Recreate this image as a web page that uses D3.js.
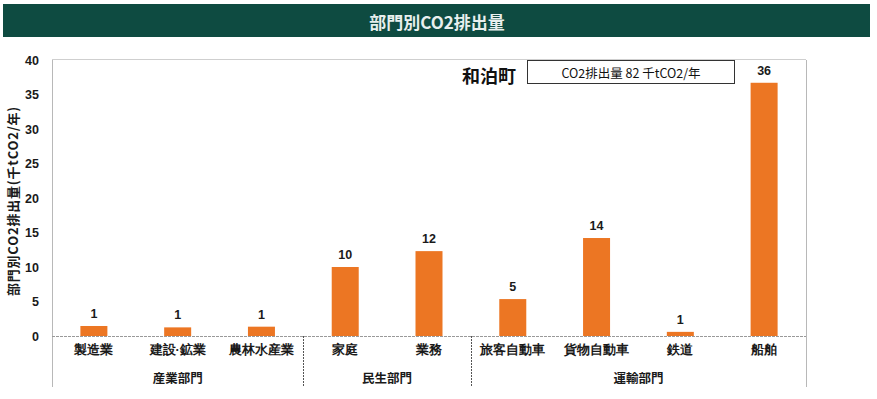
<!DOCTYPE html>
<html><head><meta charset="utf-8">
<script src="https://cdn.jsdelivr.net/npm/d3@7"></script>
<style>
body{margin:0;background:#fff;}
svg{display:block;font-family:"Noto Sans CJK JP","Noto Sans",sans-serif;}
</style></head>
<body>
<script>
const categories = ["製造業","建設·鉱業","農林水産業","家庭","業務","旅客自動車","貨物自動車","鉄道","船舶"];
const groups = ["産業部門","産業部門","産業部門","民生部門","民生部門","運輸部門","運輸部門","運輸部門","運輸部門"];
const values = [1.45, 1.25, 1.35, 10.0, 12.3, 5.35, 14.2, 0.6, 36.7];
const valueLabels = ["1","1","1","10","12","5","14","1","36"];
const yTicks = [0,5,10,15,20,25,30,35,40];
const titleText = "部門別CO2排出量";
const yTitle = "部門別CO2排出量(千tCO2/年)";
const townName = "和泊町";
const totalText = "CO2排出量 82 千tCO2/年";

(function(){
const W = 877, H = 399;
const svg = d3.select("body").append("svg").attr("width", W).attr("height", H);

// title bar
svg.append("rect").attr("x",3).attr("y",4).attr("width",867).attr("height",33).attr("fill","#0e4b41");
svg.append("text").attr("x",437).attr("y",21).attr("text-anchor","middle").attr("dominant-baseline","central")
  .attr("fill","#e8f0ee").attr("font-size",17).attr("font-weight","bold").text(titleText);

const pL = 52, pR = 806, pT = 60, pB = 336, axisBottom = 387;
const x = d3.scaleBand().domain(categories).range([pL, pR]).paddingInner(0).paddingOuter(0);
const y = d3.scaleLinear().domain([0, 40]).range([pB, pT]);
const barW = 27;

// frame
const frame = svg.append("g").attr("stroke","#b8b8b8").attr("stroke-width",1).attr("fill","none");
frame.append("line").attr("x1",pL+0.5).attr("x2",pL+0.5).attr("y1",pT).attr("y2",axisBottom);
frame.append("line").attr("x1",pR+0.5).attr("x2",pR+0.5).attr("y1",pT).attr("y2",axisBottom);
frame.append("line").attr("x1",pL).attr("x2",pR).attr("y1",pT-0.5).attr("y2",pT-0.5).attr("stroke","#cfcfcf");

// y axis
const yAxis = svg.append("g").attr("transform",`translate(${pL},0)`)
  .call(d3.axisLeft(y).tickValues(yTicks).tickSize(0).tickPadding(13));
yAxis.select(".domain").remove();
yAxis.selectAll("text").attr("font-size",12.5).attr("font-weight","bold").attr("fill","#1a1a1a")
  .attr("font-family","'Liberation Sans',Arial,sans-serif");

// y title
svg.append("text").attr("transform",`translate(12,${(pT+pB)/2+3}) rotate(-90)`)
  .attr("text-anchor","middle").attr("dominant-baseline","central")
  .attr("font-size",13).attr("letter-spacing",0.8).attr("font-weight","bold").attr("fill","#1a1a1a").text(yTitle);

// bars
svg.append("g").selectAll("rect").data(values).join("rect")
  .attr("x",(d,i)=>x(categories[i]) + x.bandwidth()/2 - barW/2)
  .attr("y",d=>y(d)).attr("width",barW).attr("height",d=>y(0)-y(d))
  .attr("fill","#ec7623");

// value labels
svg.append("g").selectAll("text").data(values).join("text")
  .attr("x",(d,i)=>x(categories[i]) + x.bandwidth()/2)
  .attr("y",d=>y(d)-8)
  .attr("text-anchor","middle").attr("font-size",12.5).attr("font-weight","bold").attr("fill","#1a1a1a")
  .attr("font-family","'Liberation Sans',Arial,sans-serif")
  .text((d,i)=>valueLabels[i]);

// baseline
svg.append("line").attr("x1",pL).attr("x2",pR).attr("y1",y(0)+0.5).attr("y2",y(0)+0.5)
  .attr("stroke","#999").attr("stroke-width",1).attr("stroke-dasharray","3,1");

// category labels
const xAxis = svg.append("g").attr("transform",`translate(0,${pB})`)
  .call(d3.axisBottom(x).tickSize(0).tickPadding(9));
xAxis.select(".domain").remove();
xAxis.selectAll("text").attr("font-size",12.5).attr("font-weight","bold").attr("fill","#1a1a1a");

// group labels and separators
const groupNames = Array.from(new Set(groups));
groupNames.forEach((g,gi)=>{
  const cats = categories.filter((c,i)=>groups[i]===g);
  const x0 = x(cats[0]), x1 = x(cats[cats.length-1]) + x.bandwidth();
  svg.append("text").attr("x",(x0+x1)/2).attr("y",383).attr("text-anchor","middle")
    .attr("font-size",12.5).attr("font-weight","bold").attr("fill","#1a1a1a").text(g);
  if (gi>0) {
    svg.append("line").attr("x1",Math.round(x0)+0.5).attr("x2",Math.round(x0)+0.5).attr("y1",pB).attr("y2",axisBottom)
      .attr("stroke","#555").attr("stroke-width",1).attr("stroke-dasharray","2,1");
  }
});

// town name and total box
svg.append("text").attr("x",489).attr("y",75).attr("text-anchor","middle").attr("dominant-baseline","central")
  .attr("font-size",18).attr("font-weight","bold").attr("fill","#111").text(townName);
svg.append("rect").attr("x",527.5).attr("y",60.5).attr("width",207).attr("height",23)
  .attr("fill","#fff").attr("stroke","#333").attr("stroke-width",1);
svg.append("text").attr("x",631).attr("y",72.5).attr("text-anchor","middle").attr("dominant-baseline","central")
  .attr("font-size",12.5).attr("fill","#111").text(totalText);
})();
</script>
</body></html>
